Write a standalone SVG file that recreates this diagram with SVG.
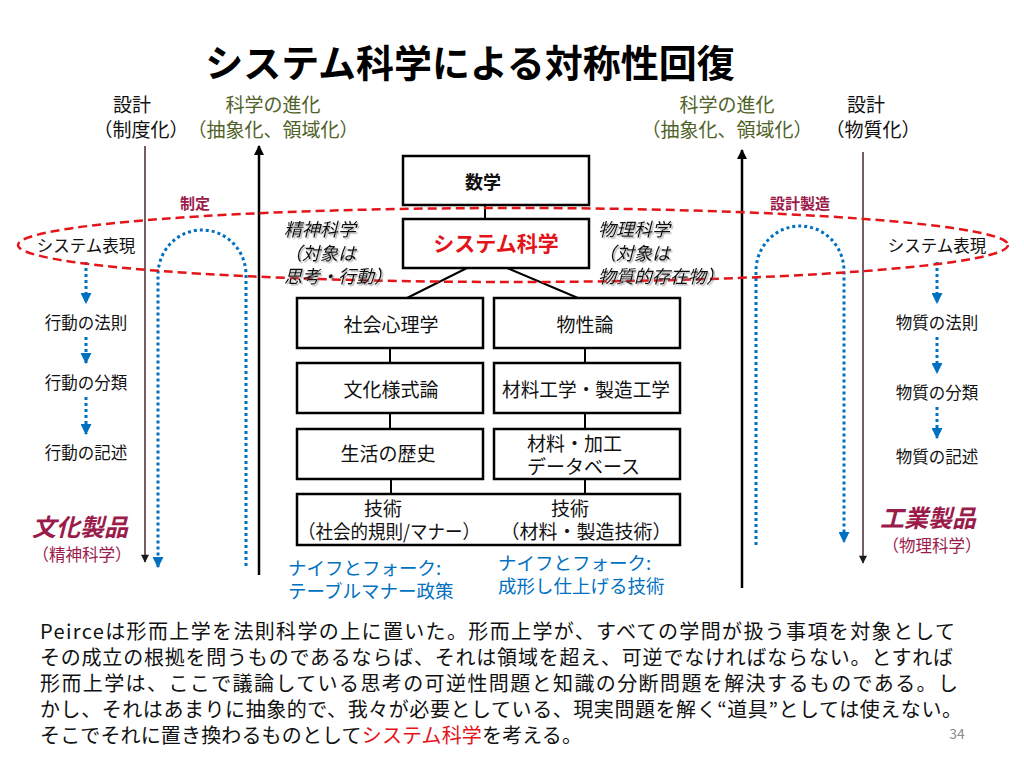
<svg xmlns="http://www.w3.org/2000/svg" width="1024" height="768" viewBox="0 0 1024 768">
<defs>
<style>
text{font-family:"Noto Sans CJK JP","Liberation Sans",sans-serif;dominant-baseline:central;fill:#111}
.c{text-anchor:middle}
.h{font-size:19px}
.ol{fill:#4f6228}
.mr{fill:#9b1b4b;font-weight:bold}
.sm{font-size:16.5px}
.bx{fill:#fff;stroke:#000;stroke-width:2.5}
.bt{font-size:19px}
.it{font-style:italic;font-size:18px}
.bl{fill:#0070c0;font-size:18.5px}
.dot{fill:none;stroke:#0070c0;stroke-width:3;stroke-dasharray:3 3}
.ln{stroke:#000;stroke-width:2;fill:none}
.thin{stroke:#4a2830;stroke-width:1.5;fill:none}
.blk{stroke:#000;stroke-width:2.5;fill:none}
.p{font-size:20px}
</style>
<marker id="ab" viewBox="0 0 10 10" refX="9" refY="5" markerWidth="11" markerHeight="11" orient="auto" markerUnits="userSpaceOnUse"><path d="M0,0 L10,5 L0,10 z" fill="#0070c0"/></marker>
<marker id="ak" viewBox="0 0 10 10" refX="9" refY="5" markerWidth="13" markerHeight="10" orient="auto" markerUnits="userSpaceOnUse"><path d="M0,0 L10,5 L0,10 z" fill="#000"/></marker>
<marker id="at" viewBox="0 0 10 10" refX="9" refY="5" markerWidth="10" markerHeight="8" orient="auto" markerUnits="userSpaceOnUse"><path d="M0,0 L10,5 L0,10 z" fill="#1a1a1a"/></marker>
<filter id="sh" x="-10%" y="-20%" width="130%" height="150%"><feDropShadow dx="1.5" dy="1.5" stdDeviation="0.6" flood-color="#777" flood-opacity="0.6"/></filter>
</defs>
<rect width="1024" height="768" fill="#fff"/>

<text x="470" y="60" class="c" style="font-size:38px;font-weight:bold;fill:#000">システム科学による対称性回復</text>

<g id="headers">
<text x="132" y="103" class="c h">設計</text>
<text x="141" y="128" class="c h">（制度化）</text>
<text x="273" y="103" class="c h ol">科学の進化</text>
<text x="273" y="128" class="c h ol">（抽象化、領域化）</text>
<text x="727" y="103" class="c h ol">科学の進化</text>
<text x="727" y="128" class="c h ol">（抽象化、領域化）</text>
<text x="866" y="103" class="c h">設計</text>
<text x="873" y="128" class="c h">（物質化）</text>
</g>

<g id="connectors">
<line x1="145" y1="146" x2="145" y2="562" class="thin" marker-end="url(#at)"/>
<line x1="863" y1="152" x2="863" y2="563" class="thin" marker-end="url(#at)"/>
<line x1="259" y1="575" x2="259" y2="146" class="blk" marker-end="url(#ak)"/>
<line x1="742" y1="588" x2="742" y2="150" class="blk" marker-end="url(#ak)"/>
<path d="M246,566 L246,275 A44,45 0 0 0 158,275 L158,567" class="dot" marker-end="url(#ab)"/>
<path d="M756,545 L756,271 A44,45 0 0 1 844,271 L844,542" class="dot" marker-end="url(#ab)"/>
<line x1="86" y1="262" x2="86" y2="303" class="dot" marker-end="url(#ab)"/>
<line x1="86" y1="337" x2="86" y2="363" class="dot" marker-end="url(#ab)"/>
<line x1="86" y1="397" x2="86" y2="434" class="dot" marker-end="url(#ab)"/>
<line x1="937" y1="262" x2="937" y2="303" class="dot" marker-end="url(#ab)"/>
<line x1="937" y1="337" x2="937" y2="373" class="dot" marker-end="url(#ab)"/>
<line x1="937" y1="407" x2="937" y2="438" class="dot" marker-end="url(#ab)"/>
<line x1="485" y1="205" x2="485" y2="219" class="ln"/>
<line x1="467" y1="268" x2="407" y2="298" class="ln"/>
<line x1="507" y1="268" x2="578" y2="298" class="ln"/>
<line x1="390" y1="348" x2="390" y2="363" class="ln"/>
<line x1="585" y1="348" x2="585" y2="363" class="ln"/>
<line x1="390" y1="413" x2="390" y2="429" class="ln"/>
<line x1="585" y1="413" x2="585" y2="429" class="ln"/>
<line x1="391" y1="479" x2="391" y2="494" class="ln"/>
<line x1="585" y1="479" x2="585" y2="494" class="ln"/>
</g>

<g id="n-sugaku"><rect x="403" y="156" width="186" height="49" class="bx"/><text x="483" y="181" class="c" style="font-size:18px;font-weight:bold">数学</text></g>
<g id="n-system"><rect x="403" y="219" width="186" height="49" class="bx"/><text x="496" y="242" class="c" style="font-size:21px;font-weight:bold;fill:#e3151a">システム科学</text></g>
<g id="n-shakai"><rect x="297" y="298" width="186" height="50" class="bx"/><text x="391" y="323" class="c bt">社会心理学</text></g>
<g id="n-bussei"><rect x="494" y="298" width="186" height="50" class="bx"/><text x="585" y="323" class="c bt">物性論</text></g>
<g id="n-bunka"><rect x="297" y="363" width="186" height="50" class="bx"/><text x="391" y="388" class="c bt">文化様式論</text></g>
<g id="n-zairyo"><rect x="494" y="363" width="186" height="50" class="bx"/><text x="586" y="388" class="c bt" textLength="168" lengthAdjust="spacingAndGlyphs">材料工学・製造工学</text></g>
<g id="n-seikatsu"><rect x="297" y="429" width="186" height="50" class="bx"/><text x="388" y="452" class="c bt">生活の歴史</text></g>
<g id="n-db"><rect x="494" y="429" width="186" height="50" class="bx"/><text x="527" y="442" class="bt">材料・加工</text><text x="527" y="465" class="bt">データベース</text></g>
<g id="n-gijutsu"><rect x="297" y="494" width="383" height="51" class="bx"/>
<text x="383" y="507" class="c bt">技術</text><text x="389" y="530" class="c bt" textLength="182" lengthAdjust="spacingAndGlyphs">（社会的規則/マナー）</text>
<text x="570" y="507" class="c bt">技術</text><text x="586" y="530" class="c bt">（材料・製造技術）</text></g>

<g id="n-ellipse"><ellipse cx="513" cy="245" rx="495" ry="37" fill="none" stroke="#e3151a" stroke-width="2.5" stroke-dasharray="9 5"/></g>

<g id="n-seishin" filter="url(#sh)">
<text x="284" y="228" class="it">精神科学</text>
<text x="284" y="252" class="it">（対象は</text>
<text x="284" y="275" class="it">思考・行動）</text>
</g>
<g id="n-butsuri" filter="url(#sh)">
<text x="598" y="228" class="it">物理科学</text>
<text x="598" y="252" class="it">（対象は</text>
<text x="598" y="275" class="it">物質的存在物）</text>
</g>

<g id="n-seitei"><text x="195" y="202" class="c mr" style="font-size:15px">制定</text></g>
<g id="n-sekkei"><text x="800" y="202" class="c mr" style="font-size:15px">設計製造</text></g>

<g id="n-left">
<text x="86" y="245" class="c sm">システム表現</text>
<text x="86" y="322" class="c sm">行動の法則</text>
<text x="86" y="382" class="c sm">行動の分類</text>
<text x="86" y="452" class="c sm">行動の記述</text>
<text x="80" y="525" class="c mr" style="font-size:24px;font-style:italic">文化製品</text>
<text x="82" y="554" class="c sm" style="fill:#9b1b4b">（精神科学）</text>
</g>
<g id="n-right">
<text x="937" y="245" class="c sm">システム表現</text>
<text x="937" y="322" class="c sm">物質の法則</text>
<text x="937" y="392" class="c sm">物質の分類</text>
<text x="937" y="456" class="c sm">物質の記述</text>
<text x="928" y="516" class="c mr" style="font-size:24px;font-style:italic">工業製品</text>
<text x="932" y="545" class="c sm" style="fill:#9b1b4b">（物理科学）</text>
</g>

<g id="n-knife">
<text x="288" y="567" class="bl">ナイフとフォーク:</text>
<text x="288" y="590" class="bl">テーブルマナー政策</text>
<text x="498" y="562" class="bl">ナイフとフォーク:</text>
<text x="498" y="585" class="bl">成形し仕上げる技術</text>
</g>

<g id="n-para">
<text x="40" y="630" class="p" textLength="915" lengthAdjust="spacing">Peirceは形而上学を法則科学の上に置いた。形而上学が、すべての学問が扱う事項を対象として</text>
<text x="40" y="656" class="p" textLength="913" lengthAdjust="spacing">その成立の根拠を問うものであるならば、それは領域を超え、可逆でなければならない。とすれば</text>
<text x="40" y="682" class="p" textLength="918" lengthAdjust="spacing">形而上学は、ここで議論している思考の可逆性問題と知識の分断問題を解決するものである。し</text>
<text x="40" y="708" class="p" textLength="922" lengthAdjust="spacing">かし、それはあまりに抽象的で、我々が必要としている、現実問題を解く“道具”としては使えない。</text>
<text x="40" y="734" class="p" textLength="542" lengthAdjust="spacing">そこでそれに置き換わるものとして<tspan style="fill:#e3151a">システム科学</tspan>を考える。</text>
<text x="957" y="733" class="c" style="font-size:14px;fill:#8c8c8c">34</text>
</g>
</svg>
